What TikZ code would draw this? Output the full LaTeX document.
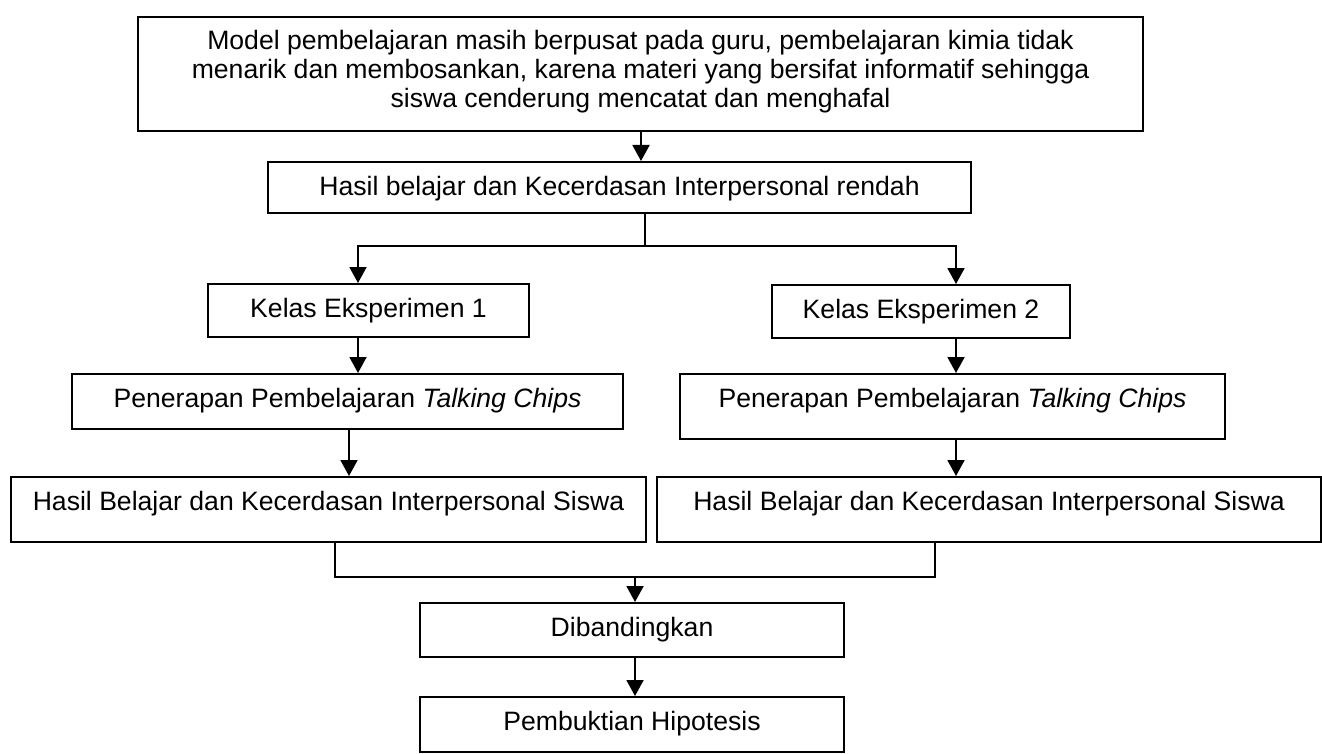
\documentclass[tikz,border=0pt]{standalone}
\usepackage{fontspec}
\setmainfont{Liberation Sans}
\usetikzlibrary{arrows.meta}
\begin{document}
\begin{tikzpicture}[x=1pt,y=-1pt,
  every node/.style={font=\fontsize{26.6}{29}\selectfont},
  box/.style={draw, line width=1.7pt, inner xsep=0pt, inner ysep=0pt, anchor=north, align=center},
  conn/.style={line width=2.2pt, line cap=rect},
  arr/.style={line width=1.9pt, -{Triangle[length=16pt,width=17pt]}}
  ]
\useasboundingbox (0,0) rectangle (1322,754);
\fill[white] (0,0) rectangle (1322,754);

\node[box, minimum width=1005pt, text height=90.5pt, text depth=23.5pt] (top) at (640.5,16)
  {Model pembelajaran masih berpusat pada guru, pembelajaran kimia tidak\\
   menarik dan membosankan, karena materi yang bersifat informatif sehingga\\
   siswa cenderung mencatat dan menghafal};
\node[box, minimum width=703pt, text height=34pt, text depth=17pt] (low) at (619.5,161)
  {Hasil belajar dan Kecerdasan Interpersonal rendah};
\node[box, minimum width=321pt, text height=34pt, text depth=19pt] (k1) at (368.5,283)
  {Kelas Eksperimen 1};
\node[box, minimum width=298pt, text height=34pt, text depth=19pt] (k2) at (921,284)
  {Kelas Eksperimen 2};
\node[box, minimum width=551pt, text height=34pt, text depth=21pt] (p1) at (347.5,373)
  {Penerapan Pembelajaran \textit{Talking Chips}};
\node[box, minimum width=545pt, text height=34pt, text depth=31pt] (p2) at (952.5,373)
  {Penerapan Pembelajaran \textit{Talking Chips}};
\node[box, minimum width=635pt, text height=34pt, text depth=31pt] (h1) at (328.5,476)
  {Hasil Belajar dan Kecerdasan Interpersonal Siswa};
\node[box, minimum width=664pt, text height=34pt, text depth=31pt] (h2) at (989,476)
  {Hasil Belajar dan Kecerdasan Interpersonal Siswa};
\node[box, minimum width=424pt, text height=34pt, text depth=20pt] (dib) at (632,602)
  {Dibandingkan};
\node[box, minimum width=424pt, text height=34pt, text depth=21pt] (pem) at (632,696)
  {Pembuktian Hipotesis};

\coordinate (ct) at (641,0);
\coordinate (sp) at (645,246);
\coordinate (bl) at (358,246);
\coordinate (br) at (956,246);
\coordinate (c1) at (349,0);
\coordinate (m1) at (335,577);
\coordinate (m2) at (935,577);
\coordinate (mm) at (635,577);

\draw[arr] (top.south -| ct) -- (low.north -| ct);
\draw[conn] (low.south -| sp) -- (sp);
\draw[conn] (bl) -- (br);
\draw[arr] (bl) -- (k1.north -| bl);
\draw[arr] (br) -- (k2.north -| br);
\draw[arr] (k1.south -| bl) -- (p1.north -| bl);
\draw[arr] (p1.south -| c1) -- (h1.north -| c1);
\draw[arr] (k2.south -| br) -- (p2.north -| br);
\draw[arr] (p2.south -| br) -- (h2.north -| br);
\draw[conn] (h1.south -| m1) -- (m1) -- (m2) -- (h2.south -| m2);
\draw[arr] (mm) -- (dib.north -| mm);
\draw[arr] (dib.south -| mm) -- (pem.north -| mm);
\end{tikzpicture}
\end{document}
